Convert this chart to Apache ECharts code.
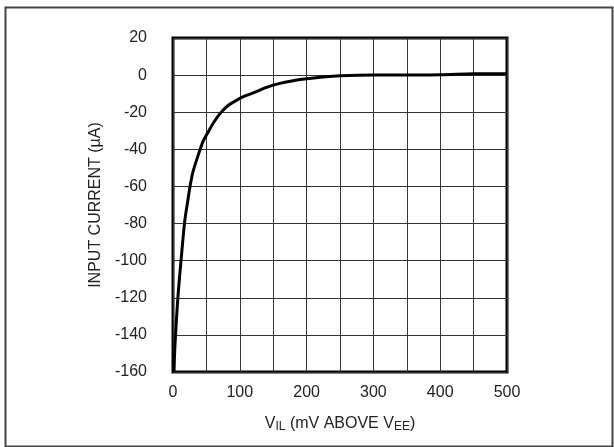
<!DOCTYPE html>
<html>
<head>
<meta charset="utf-8">
<script src="https://cdn.jsdelivr.net/npm/echarts@6/dist/echarts.min.js"></script>
<style>
html,body{margin:0;padding:0;background:#fff;}
#chart{width:614px;height:447px;}
</style>
</head>
<body>
<div id="chart"></div>
<script>
var vil = [1.5, 2.5, 4, 7.5, 12.5, 17.5, 22, 26, 30, 37.4, 45, 52.4, 60, 70, 82, 95, 103, 120, 140, 157, 180, 200, 225, 250, 300, 350, 400, 450, 500];
var current = [-160, -149, -139, -119, -98, -79, -68, -59, -52, -43.5, -35.7, -30.8, -26.1, -20.9, -16.5, -13.6, -12.0, -9.6, -6.6, -4.7, -3, -2, -1, -0.4, 0, 0, 0.2, 0.7, 0.8];
var xTicks = [0, 100, 200, 300, 400, 500];
var yTicks = [20, 0, -20, -40, -60, -80, -100, -120, -140, -160];

var FONT = '"Liberation Sans Narrow", "Arial Narrow", "Liberation Sans", sans-serif';
var chart = echarts.init(document.getElementById('chart'));
var pts = vil.map(function (v, i) { return [v, current[i]]; });
chart.setOption({
  animation: false,
  backgroundColor: '#fff',
  graphic: [{
    type: 'rect', left: 3, top: 5, shape: { width: 607, height: 439 },
    style: { fill: 'none', stroke: '#444', lineWidth: 2 }, silent: true
  }],
  grid: { left: 173, top: 38, width: 334, height: 334, show: true, borderColor: '#000', borderWidth: 3, backgroundColor: 'transparent' },
  xAxis: {
    type: 'value', min: 0, max: 500, interval: 50,
    axisLine: { show: false }, axisTick: { show: false },
    splitLine: { show: true, lineStyle: { color: '#333', width: 1 } },
    axisLabel: {
      margin: 13, color: '#222', fontFamily: FONT, fontSize: 16,
      formatter: function (v) { return xTicks.indexOf(v) >= 0 ? String(v) : ''; }
    },
    name: 'V{sub|IL} (mV ABOVE V{sub|EE})',
    nameLocation: 'middle', nameGap: 43,
    nameTextStyle: {
      color: '#222', fontFamily: FONT, fontSize: 16,
      rich: { sub: { fontSize: 12, fontFamily: FONT, color: '#222', padding: [6, 0, 0, 0] } }
    }
  },
  yAxis: {
    type: 'value', min: -160, max: 20, interval: 20,
    axisLine: { show: false }, axisTick: { show: false },
    splitLine: { show: true, lineStyle: { color: '#333', width: 1 } },
    axisLabel: {
      margin: 26, color: '#222', fontFamily: FONT, fontSize: 16,
      formatter: function (v) { return yTicks.indexOf(v) >= 0 ? String(v) : ''; }
    },
    name: 'INPUT CURRENT (\u00b5A)',
    nameLocation: 'middle', nameGap: 69,
    nameTextStyle: { color: '#222', fontFamily: FONT, fontSize: 16 }
  },
  series: [{
    type: 'line', data: pts, smooth: 0.3, showSymbol: false,
    lineStyle: { color: '#000', width: 3 }, clip: true
  }]
});
</script>
</body>
</html>
